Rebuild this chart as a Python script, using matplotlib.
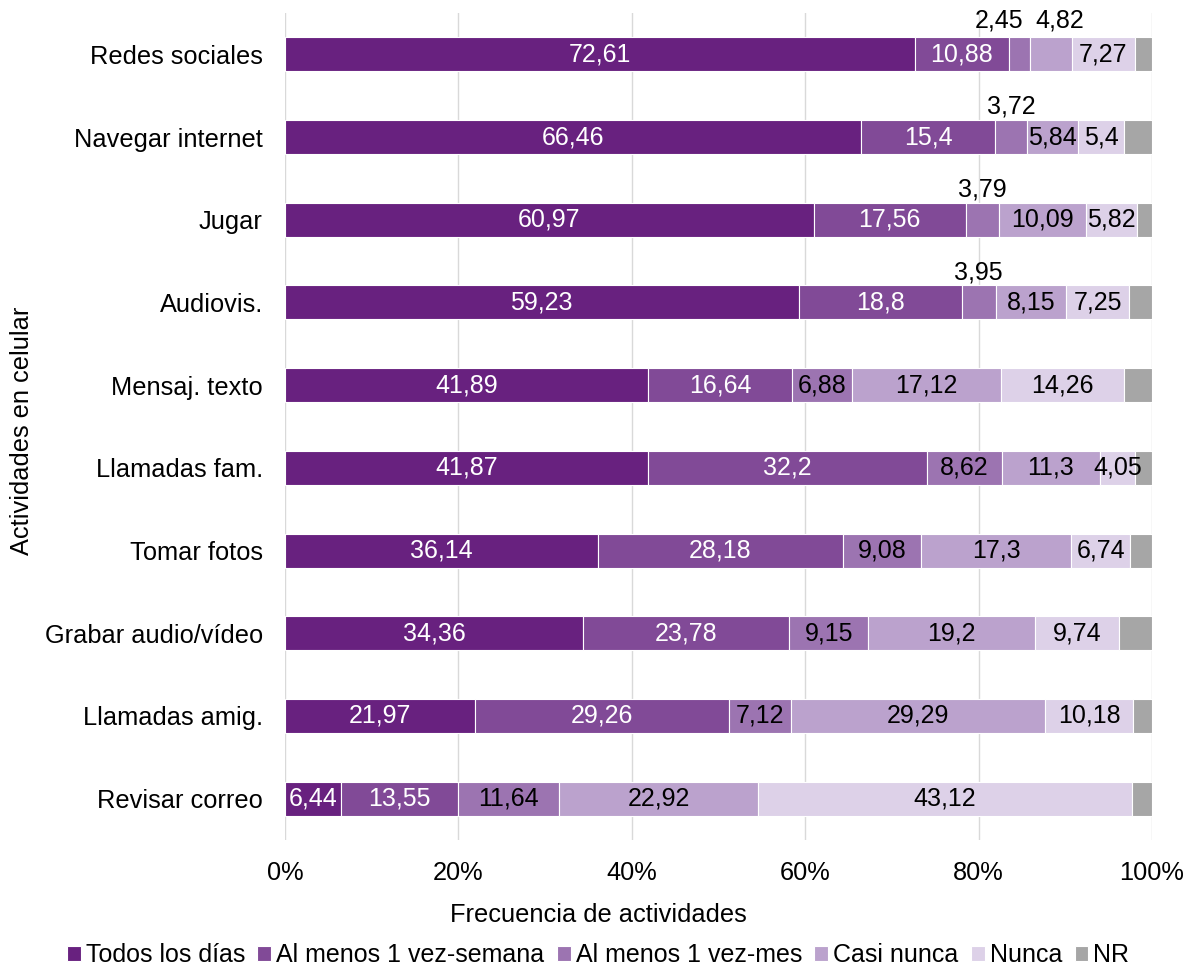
import matplotlib
matplotlib.use("Agg")
import matplotlib.pyplot as plt
import numpy as np

plt.rcParams['font.family'] = ['Liberation Sans', 'DejaVu Sans']

# Activities (top to bottom as shown)
activities = ["Redes sociales", "Navegar internet", "Jugar", "Audiovis.",
              "Mensaj. texto", "Llamadas fam.", "Tomar fotos",
              "Grabar audio/vídeo", "Llamadas amig.", "Revisar correo"]

series_names = ["Todos los días", "Al menos 1 vez-semana", "Al menos 1 vez-mes",
                "Casi nunca", "Nunca", "NR"]

todos_los_dias = [72.61, 66.46, 60.97, 59.23, 41.89, 41.87, 36.14, 34.36, 21.97, 6.44]
vez_semana     = [10.88, 15.4, 17.56, 18.8, 16.64, 32.2, 28.18, 23.78, 29.26, 13.55]
vez_mes        = [2.45, 3.72, 3.79, 3.95, 6.88, 8.62, 9.08, 9.15, 7.12, 11.64]
casi_nunca     = [4.82, 5.84, 10.09, 8.15, 17.12, 11.3, 17.3, 19.2, 29.29, 22.92]
nunca          = [7.27, 5.4, 5.82, 7.25, 14.26, 4.05, 6.74, 9.74, 10.18, 43.12]
no_responde    = [1.97, 3.18, 1.77, 2.62, 3.21, 1.96, 2.56, 3.77, 2.18, 2.33]

colors = ["#68217f", "#814a97", "#9c74b1", "#bba2cd", "#ddd1e8", "#a6a6a6"]
text_colors = ["white", "white", "black", "black", "black", None]

data = np.array([todos_los_dias, vez_semana, vez_mes, casi_nunca, nunca, no_responde])
totals = data.sum(axis=0)
pct = data / totals * 100.0

fig = plt.figure(figsize=(11.96, 9.72), dpi=100)
ax = fig.add_axes([285/1196, 1 - 840/972, (1152 - 285)/1196, (840 - 13)/972])

y = np.arange(len(activities))
bar_h = 0.41
left = np.zeros(len(activities))
bars = []
for i, name in enumerate(series_names):
    b = ax.barh(y, pct[i], left=left, height=bar_h, color=colors[i],
                edgecolor="white", linewidth=0.8, label=name, zorder=3)
    bars.append(b)
    left = left + pct[i]

# value labels; narrow segments get their label above the bar
above = {(0, 2): -2.4, (0, 3): 1.0, (1, 2): 0.0, (2, 2): 0.0, (3, 2): 0.0}
above_gap = {0: 0.2}
starts = np.vstack([np.zeros(len(activities)), np.cumsum(pct, axis=0)[:-1]])
for i in range(5):
    for j in range(len(activities)):
        val = data[i, j]
        cx = starts[i, j] + pct[i, j] / 2
        label = f"{val:g}".replace(".", ",")
        if (j, i) in above:
            cx += above[(j, i)]
            gap = above_gap.get(j, 0.16)
            ax.text(cx, y[j] - bar_h / 2 - gap, label, ha="center", va="center",
                    fontsize=18, color="black", zorder=4)
        else:
            ax.text(cx, y[j], label, ha="center", va="center",
                    fontsize=18, color=text_colors[i], zorder=4)

ax.set_xlim(0, 100)
ax.set_ylim(len(activities) - 0.5, -0.5)
ax.set_yticks(y)
ax.set_yticklabels(activities, fontsize=18.3)
ax.set_xticks(np.arange(0, 101, 20))
ax.set_xticklabels([f"{v}%" for v in range(0, 101, 20)], fontsize=18.3)
ax.tick_params(axis="both", length=0)
ax.tick_params(axis="y", pad=16)
ax.tick_params(axis="x", pad=15)
ax.xaxis.grid(True, color="#d9d9d9", linewidth=1.0, zorder=0)
for s in ax.spines.values():
    s.set_visible(False)

fig.text(0.5, 1 - 915/972, "Frecuencia de actividades", ha="center", va="center",
         fontsize=18.3)
fig.text(22/1196, 1 - 431/972, "Actividades en celular", ha="center", va="center",
         rotation=90, fontsize=18.3)

fig.legend(handles=bars, labels=series_names, loc="center",
           bbox_to_anchor=(0.5, 1 - 955/972), ncol=6, frameon=False,
           fontsize=18, handlelength=0.55, handleheight=0.55,
           handletextpad=0.2, columnspacing=0.5, borderaxespad=0)

fig.savefig("out.png", dpi=100)
